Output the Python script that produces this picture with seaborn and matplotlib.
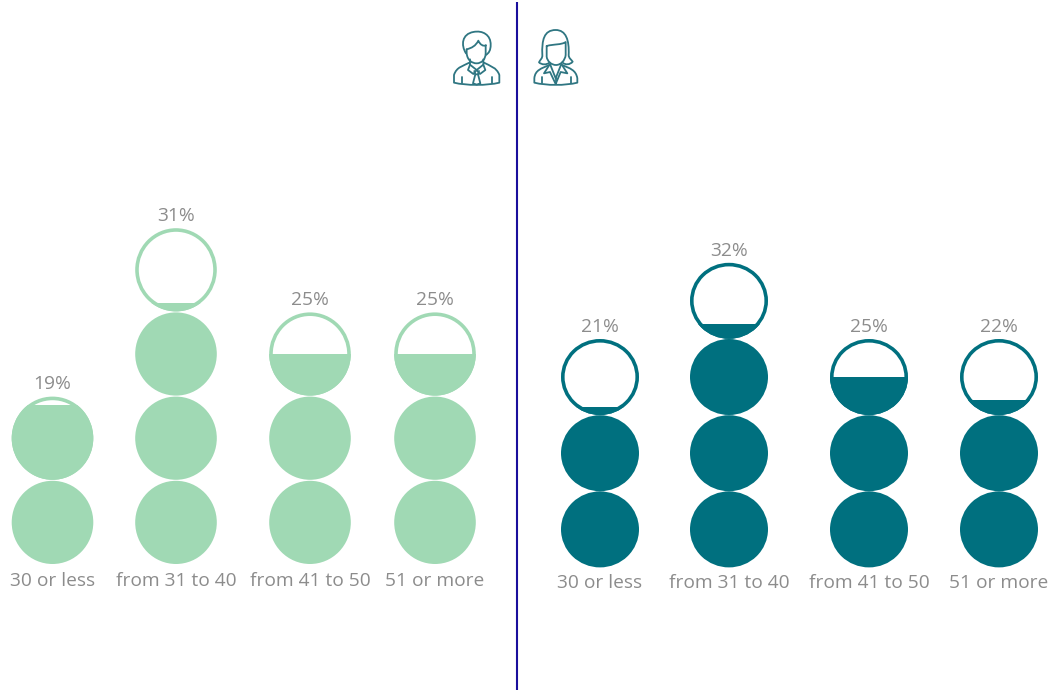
import matplotlib
matplotlib.use("Agg")
import matplotlib.pyplot as plt
import pandas as pd
import seaborn as sns
from matplotlib.patches import Ellipse, PathPatch
from matplotlib.path import Path
from matplotlib.transforms import Affine2D

sns.set_theme(style="white")
plt.rcParams["font.family"] = ["Open Sans", "DejaVu Sans"]

WIDTH, HEIGHT = 1057, 692

age_groups = ["30 or less", "from 31 to 40", "from 41 to 50", "51 or more"]
men_share = [19, 31, 25, 25]
women_share = [21, 32, 25, 22]

men_x = [52.5, 176, 310, 435]
women_x = [600, 729, 869, 999]

MEN_COLOR = "#a0d9b4"
WOMEN_COLOR = "#00707f"
TEXT_COLOR = "#8c8c8c"
ICON_COLOR = "#2f7682"
PER_CIRCLE = 10

fig = plt.figure(figsize=(WIDTH / 100, HEIGHT / 100), dpi=100, facecolor="white")


def new_layer():
    ax = fig.add_axes([0, 0, 1, 1])
    ax.patch.set_alpha(0)
    ax.set_axis_off()
    return ax


def circle_stack(ax, xs, shares, color, baseline_px, pitch_px, rx, ry_px, ring_lw, label_y, pct_gap):
    """One stack of circles per group: each circle holds ten percent."""
    per_unit = pitch_px / PER_CIRCLE
    frame = pd.DataFrame({"x": xs, "share": shares})
    sns.barplot(data=frame, x="x", y="share", native_scale=True, color=color,
                saturation=1, width=1, linewidth=0, ax=ax)
    ax.set_xlim(0, WIDTH)
    ax.set_ylim(-(HEIGHT - baseline_px) / per_unit, baseline_px / per_unit)
    ax.set_axis_off()
    ry = ry_px / per_unit

    for bar, x, share, group in zip(ax.patches, xs, shares, age_groups):
        n_circles = -(-share // PER_CIRCLE)
        outlines = [
            Affine2D().scale(rx, ry).translate(x, PER_CIRCLE * (i + 0.5)).transform_path(Path.unit_circle())
            for i in range(n_circles)
        ]
        bar.set_clip_path(Path.make_compound_path(*outlines), transform=ax.transData)
        top_center = PER_CIRCLE * (n_circles - 0.5)
        ax.add_patch(Ellipse((x, top_center), 2 * rx - ring_lw, 2 * ry - ring_lw / per_unit,
                             fill=False, edgecolor=color, linewidth=ring_lw * 0.72))
        ax.annotate(f"{share}%", (x, n_circles * PER_CIRCLE), xytext=(0, pct_gap),
                    textcoords="offset pixels", ha="center", va="bottom",
                    fontsize=13.8, color=TEXT_COLOR)
        ax.annotate(group, (x, 0), xytext=(0, label_y), textcoords="offset pixels",
                    ha="center", va="center", fontsize=13.8, color=TEXT_COLOR)


circle_stack(new_layer(), men_x, men_share, MEN_COLOR, 564.5, 84.2, 40.8, 41.6, 3.6, -16, 3)
circle_stack(new_layer(), women_x, women_share, WOMEN_COLOR, 567.5, 76.2, 39, 38, 3.6, -15, 3)

# Page furniture is laid out in pixel coordinates on its own layer.
overlay = new_layer()
overlay.set_xlim(0, WIDTH)
overlay.set_ylim(HEIGHT, 0)
overlay.plot([516.5, 516.5], [2, 690], color="#1a0f9c", linewidth=1.5, solid_capstyle="butt")


def curve(*pts):
    """Path from a start point followed by line (2-tuple) or cubic (6-tuple) segments."""
    verts, codes = [pts[0]], [Path.MOVETO]
    for seg in pts[1:]:
        if len(seg) == 2:
            verts.append(seg)
            codes.append(Path.LINETO)
        else:
            verts += [seg[:2], seg[2:4], seg[4:6]]
            codes += [Path.CURVE4] * 3
    return Path(verts, codes)


man_icon = [
    curve((78, 100), (62, 75, 66, 42, 100, 36), (128, 30, 153, 45, 152, 75), (152, 90, 147, 100, 137, 105)),
    curve((80, 88), (95, 84, 107, 78, 115, 62), (120, 74, 130, 80, 138, 76)),
    curve((80, 88), (80, 100), (82, 120, 95, 130, 110, 130), (125, 130, 137, 118, 137, 100), (137, 76)),
    curve((88, 128), (70, 138, 50, 140, 42, 165), (42, 188), (80, 197, 140, 197, 178, 188), (178, 165),
          (170, 142, 150, 138, 132, 128)),
    curve((90, 118), (90, 134), (110, 150), (130, 134), (130, 118)),
    curve((90, 134), (84, 150), (100, 162), (110, 150), (120, 162), (136, 150), (130, 134)),
    curve((103, 153), (106, 163), (114, 163), (117, 153)),
    curve((106, 163), (99, 190), (110, 194), (121, 190), (114, 163)),
    curve((65, 170), (65, 190)),
    curve((155, 170), (155, 190)),
]
woman_icon = [
    curve((328, 128), (320, 135, 305, 135, 297, 127), (300, 120, 308, 115, 307, 105),
          (305, 60, 312, 30, 347, 30), (378, 30, 388, 60, 386, 105), (386, 115, 395, 120, 398, 125),
          (390, 135, 375, 135, 368, 128)),
    curve((320, 78), (320, 110), (322, 125, 335, 135, 348, 135), (362, 135, 375, 122, 377, 105), (377, 66),
          (365, 75, 340, 72, 320, 78)),
    curve((328, 135), (305, 145, 285, 150, 283, 175), (283, 188), (320, 197, 375, 197, 412, 188), (412, 175),
          (408, 150, 390, 145, 366, 135)),
    curve((330, 132), (347, 175), (364, 132)),
    curve((328, 135), (312, 160), (330, 156), (347, 192), (362, 156), (382, 160), (366, 135)),
    curve((347, 175), (347, 192)),
    curve((305, 170), (305, 190)),
    curve((392, 170), (392, 190)),
]
icon_to_px = Affine2D().scale(1 / 3).translate(440, 20)
for shape in man_icon + woman_icon:
    overlay.add_patch(PathPatch(icon_to_px.transform_path(shape), fill=False, edgecolor=ICON_COLOR,
                                linewidth=1.3, capstyle="round", joinstyle="round"))

fig.savefig("out.png", dpi=100)
